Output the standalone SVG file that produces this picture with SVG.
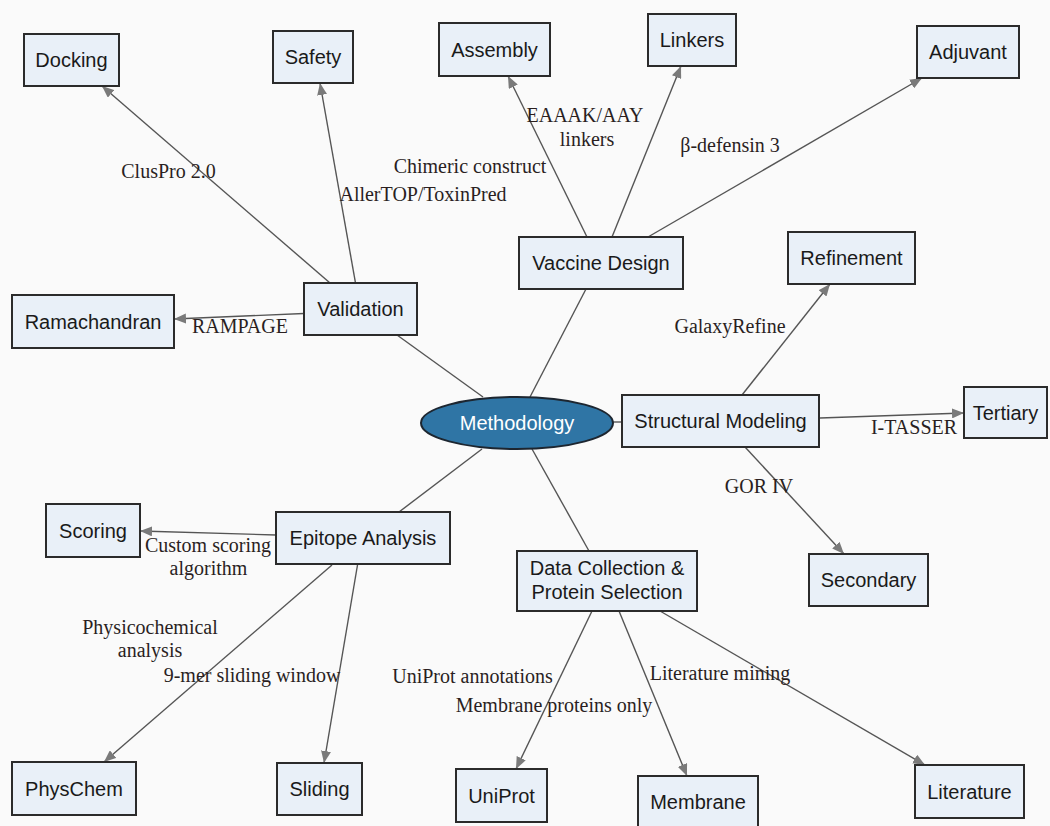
<svg xmlns="http://www.w3.org/2000/svg" width="1050" height="826" viewBox="0 0 1050 826">
  <defs>
    <marker id="arrow" viewBox="0 0 12 10" refX="12" refY="5" markerWidth="12" markerHeight="10" markerUnits="userSpaceOnUse" orient="auto">
      <path d="M0,0 L12,5 L0,10 Z" fill="#7a7a7a"/>
    </marker>
    <style>
      .box { fill: #e9f0f8; stroke: #2b2b2b; stroke-width: 2; }
      .hub { fill: #2f75a5; stroke: #1d2630; stroke-width: 2; }
      .ntext { font-family: "Liberation Sans", Arial, sans-serif; font-size: 20px; fill: #1a1a1a; text-anchor: middle; }
      .htext { font-family: "Liberation Sans", Arial, sans-serif; font-size: 20px; fill: #ffffff; text-anchor: middle; }
      .edge { stroke: #555555; stroke-width: 1.4; fill: none; }
      .arr { marker-end: url(#arrow); }
      .lbl { font-family: "Liberation Serif", "Times New Roman", serif; font-size: 20px; fill: #2a1f1f; text-anchor: middle; }
    </style>
  </defs>

  <rect width="1050" height="826" fill="#fafafa"/>

  <!-- connectors -->
  <g id="connectors">
    <line class="edge" x1="483" y1="397" x2="397" y2="335"/>
    <line class="edge" x1="530" y1="397" x2="586" y2="289"/>
    <line class="edge" x1="613" y1="422" x2="622" y2="422"/>
    <line class="edge" x1="482" y1="449" x2="399" y2="512"/>
    <line class="edge" x1="532" y1="449" x2="589" y2="551"/>

    <line class="edge arr" x1="330" y1="283" x2="102" y2="86"/>
    <line class="edge arr" x1="355.5" y1="283" x2="320" y2="83"/>
    <line class="edge arr" x1="304" y1="313.5" x2="174" y2="319"/>
    <line class="edge arr" x1="587" y1="237" x2="508" y2="76"/>
    <line class="edge arr" x1="612" y1="237" x2="681" y2="66"/>
    <line class="edge arr" x1="648" y1="237" x2="922" y2="78"/>
    <line class="edge arr" x1="742" y1="395" x2="830" y2="284"/>
    <line class="edge arr" x1="820" y1="418" x2="964" y2="413"/>
    <line class="edge arr" x1="745" y1="447" x2="844" y2="554"/>
    <line class="edge arr" x1="276" y1="535" x2="140" y2="531"/>
    <line class="edge arr" x1="332" y1="565" x2="104" y2="762"/>
    <line class="edge arr" x1="357.5" y1="565" x2="324" y2="763"/>
    <line class="edge arr" x1="592" y1="611" x2="516" y2="769"/>
    <line class="edge arr" x1="619" y1="611" x2="687" y2="776"/>
    <line class="edge arr" x1="660" y1="611" x2="925" y2="765"/>

    <!-- edge labels -->
    <text class="lbl" x="168.5" y="178">ClusPro 2.0</text>
    <text class="lbl" x="423" y="201">AllerTOP/ToxinPred</text>
    <text class="lbl" x="470" y="173">Chimeric construct</text>
    <text class="lbl" x="585" y="122">EAAAK/AAY</text>
    <text class="lbl" x="587" y="146">linkers</text>
    <text class="lbl" x="730" y="152">β-defensin 3</text>
    <text class="lbl" x="240" y="333">RAMPAGE</text>
    <text class="lbl" x="730" y="333">GalaxyRefine</text>
    <text class="lbl" x="914" y="434">I-TASSER</text>
    <text class="lbl" x="759" y="493">GOR IV</text>
    <text class="lbl" x="208" y="552">Custom scoring</text>
    <text class="lbl" x="208.5" y="575">algorithm</text>
    <text class="lbl" x="150" y="634">Physicochemical</text>
    <text class="lbl" x="150" y="657">analysis</text>
    <text class="lbl" x="252" y="682">9-mer sliding window</text>
    <text class="lbl" x="472.5" y="683">UniProt annotations</text>
    <text class="lbl" x="554" y="712">Membrane proteins only</text>
    <text class="lbl" x="720" y="680">Literature mining</text>
  </g>

  <!-- nodes -->
  <g id="methodology">
    <ellipse class="hub" cx="517" cy="423" rx="96" ry="26"/>
    <text class="htext" x="517" y="430">Methodology</text>
  </g>
  <g id="validation">
    <rect class="box" x="304" y="283" width="113" height="52"/>
    <text class="ntext" x="360.5" y="316">Validation</text>
  </g>
  <g id="docking">
    <rect class="box" x="24" y="34" width="95" height="52"/>
    <text class="ntext" x="71.5" y="67">Docking</text>
  </g>
  <g id="safety">
    <rect class="box" x="273" y="31" width="80" height="52"/>
    <text class="ntext" x="313" y="64">Safety</text>
  </g>
  <g id="ramachandran">
    <rect class="box" x="12" y="295" width="162" height="53"/>
    <text class="ntext" x="93" y="328.5">Ramachandran</text>
  </g>
  <g id="vaccine-design">
    <rect class="box" x="519" y="237" width="164" height="52"/>
    <text class="ntext" x="601" y="270">Vaccine Design</text>
  </g>
  <g id="assembly">
    <rect class="box" x="439" y="23" width="111" height="53"/>
    <text class="ntext" x="494.5" y="56.5">Assembly</text>
  </g>
  <g id="linkers">
    <rect class="box" x="648" y="14" width="88" height="52"/>
    <text class="ntext" x="692" y="47">Linkers</text>
  </g>
  <g id="adjuvant">
    <rect class="box" x="917" y="26" width="102" height="52"/>
    <text class="ntext" x="968" y="59">Adjuvant</text>
  </g>
  <g id="structural-modeling">
    <rect class="box" x="622" y="395" width="197" height="52"/>
    <text class="ntext" x="720.5" y="428">Structural Modeling</text>
  </g>
  <g id="refinement">
    <rect class="box" x="788" y="232" width="127" height="52"/>
    <text class="ntext" x="851.5" y="265">Refinement</text>
  </g>
  <g id="tertiary">
    <rect class="box" x="964" y="387" width="83" height="51"/>
    <text class="ntext" x="1005.5" y="419.5">Tertiary</text>
  </g>
  <g id="secondary">
    <rect class="box" x="809" y="554" width="119" height="52"/>
    <text class="ntext" x="868.5" y="587">Secondary</text>
  </g>
  <g id="epitope-analysis">
    <rect class="box" x="276" y="512" width="174" height="52"/>
    <text class="ntext" x="363" y="545">Epitope Analysis</text>
  </g>
  <g id="scoring">
    <rect class="box" x="46" y="504" width="94" height="53"/>
    <text class="ntext" x="93" y="537.5">Scoring</text>
  </g>
  <g id="physchem">
    <rect class="box" x="12" y="762" width="124" height="53"/>
    <text class="ntext" x="74" y="795.5">PhysChem</text>
  </g>
  <g id="sliding">
    <rect class="box" x="277" y="763" width="85" height="52"/>
    <text class="ntext" x="319.5" y="796">Sliding</text>
  </g>
  <g id="data-collection">
    <rect class="box" x="517" y="551" width="180" height="60"/>
    <text class="ntext" x="607" y="575">Data Collection &amp;</text>
    <text class="ntext" x="607" y="599">Protein Selection</text>
  </g>
  <g id="uniprot">
    <rect class="box" x="456" y="769" width="91" height="53"/>
    <text class="ntext" x="501.5" y="802.5">UniProt</text>
  </g>
  <g id="membrane">
    <rect class="box" x="638" y="776" width="120" height="52"/>
    <text class="ntext" x="698" y="809">Membrane</text>
  </g>
  <g id="literature">
    <rect class="box" x="915" y="765" width="109" height="53"/>
    <text class="ntext" x="969.5" y="798.5">Literature</text>
  </g>
</svg>
